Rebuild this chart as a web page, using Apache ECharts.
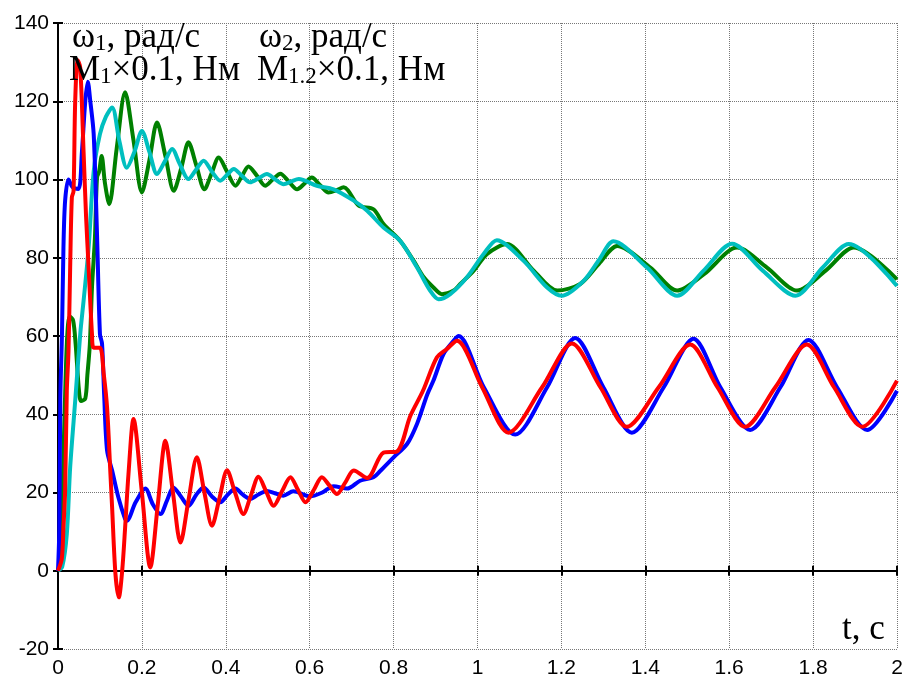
<!DOCTYPE html>
<html>
<head>
<meta charset="utf-8">
<script src="https://cdn.jsdelivr.net/npm/echarts@6/dist/echarts.min.js"></script>
<style>
  html, body { margin: 0; padding: 0; background: #fff; }
  #chart { width: 907px; height: 680px; }
</style>
</head>
<body>
<div id="chart"></div>
<script>
// t, s  ->  value
var omega1 = [[0,0],[0.006,3],[0.012,25],[0.017,45],[0.022,60],[0.028,65],[0.036,64],[0.042,58],[0.05,46],[0.055,43.4],
  [0.065,44],[0.07,50],[0.076,58],[0.081,72.4],[0.088,85],[0.093,100.5],[0.098,102],[0.104,106],[0.112,99],[0.122,93.7],
  [0.14,108],[0.16,122.3],[0.18,110],[0.2,96.7],[0.218,105],[0.236,114.6],[0.256,106],[0.276,97.1],[0.294,103],[0.311,109.5],
  [0.33,103.5],[0.349,97.5],[0.366,101.5],[0.383,105.6],[0.403,102],[0.423,98.4],[0.439,101],[0.454,103.3],[0.474,101],[0.494,98.4],
  [0.512,100],[0.53,101.5],[0.55,99.5],[0.57,97.5],[0.588,99],[0.605,100.5],[0.625,98.5],[0.645,96.7],[0.663,97.2],[0.681,98],
  [0.717,93.3],[0.752,92.4],[0.776,88.6],[0.816,84.3],[0.848,79.2],[0.872,75],[0.895,72.4],[0.915,70.7],[0.943,71.6],[0.959,73.3],
  [0.991,76.7],[1.023,81],[1.07,83.5],[1.134,76.7],[1.19,71.6],[1.245,73.3],[1.29,78.5],[1.333,83],[1.412,77.5],[1.476,71.6],
  [1.54,75.8],[1.619,82.6],[1.69,77.5],[1.762,71.6],[1.83,76.7],[1.897,82.6],[2.0,74.5]];

var omega2 = [[0,0],[0.01,1],[0.021,9.4],[0.029,26.4],[0.041,43.4],[0.053,60.5],[0.061,69],[0.073,82.6],[0.085,102],[0.1,111.6],
  [0.114,116],[0.129,118.4],[0.146,110],[0.164,103],[0.182,107],[0.2,112.4],[0.218,107],[0.236,101.4],[0.254,104.5],[0.272,107.8],
  [0.29,104],[0.311,100.1],[0.329,102.5],[0.347,104.8],[0.367,102],[0.387,99.7],[0.403,101.2],[0.419,102.7],[0.438,101],[0.458,99.3],
  [0.478,100.3],[0.498,101.4],[0.518,100],[0.538,98.8],[0.556,99.5],[0.574,100.1],[0.617,98.4],[0.657,97.5],[0.705,94.6],[0.737,92],
  [0.776,87.7],[0.816,84.3],[0.856,77.5],[0.887,71.6],[0.907,69.4],[0.935,70.7],[0.975,75],[1.015,81],[1.046,84.5],[1.11,79.2],
  [1.166,72.4],[1.201,70.3],[1.253,74.1],[1.29,79.5],[1.324,84.2],[1.404,77.5],[1.476,70.3],[1.539,76.7],[1.607,83.6],[1.68,76.7],
  [1.758,70.3],[1.823,77.5],[1.885,83.5],[2.0,72.8]];

var torque1 = [[0,0],[0.003,10],[0.0055,44],[0.0095,60.5],[0.013,82.6],[0.017,94.6],[0.025,100],[0.035,98],[0.049,97.6],[0.057,107],
  [0.065,120],[0.071,125],[0.077,120],[0.085,111.7],[0.093,86],[0.1,60.5],[0.105,58],[0.11,45],[0.117,30.7],[0.129,25.6],
  [0.144,18.7],[0.16,13.2],[0.164,12.8],[0.185,17.5],[0.208,21],[0.226,17],[0.244,14.5],[0.26,18],[0.275,21.3],[0.293,19],
  [0.311,16.6],[0.33,19.5],[0.347,21.3],[0.367,19],[0.387,17.5],[0.405,19.5],[0.423,21],[0.44,19.5],[0.458,18.4],[0.478,19.5],
  [0.498,20.4],[0.517,19.8],[0.537,19.2],[0.561,20.3],[0.601,19],[0.63,20],[0.657,21.6],[0.689,21],[0.72,23],[0.752,23.9],
  [0.768,25.5],[0.8,29],[0.832,32.4],[0.856,37.6],[0.88,45],[0.895,48.6],[0.919,55.4],[0.943,58.8],[0.955,60],[1.015,46.9],
  [1.09,34.8],[1.166,46.9],[1.233,59.5],[1.3,46.9],[1.368,35.3],[1.444,46.9],[1.515,59.3],[1.579,46.9],[1.65,36],[1.722,46.9],
  [1.789,59],[1.857,46.9],[1.929,36],[2.0,46]];

var torque12 = [[0,0],[0.009,3],[0.013,11],[0.017,20.4],[0.021,46],[0.025,56],[0.029,77.5],[0.033,95.4],[0.037,97],[0.041,120],
  [0.047,130.5],[0.053,128.6],[0.061,107],[0.067,90.3],[0.073,77.5],[0.081,60.5],[0.085,57],[0.1,57],[0.109,50.3],[0.117,41.7],
  [0.125,24.7],[0.129,16.2],[0.137,-0.9],[0.145,-6.8],[0.153,0],[0.16,11],[0.168,24.7],[0.18,38.8],[0.2,20],[0.22,0.85],
  [0.238,17],[0.256,33.2],[0.274,20],[0.292,7.2],[0.311,18],[0.331,29],[0.349,20],[0.367,11.5],[0.385,18.6],[0.403,25.7],
  [0.422,20],[0.442,14.5],[0.46,19.3],[0.478,24],[0.496,20.3],[0.514,16.6],[0.534,20.3],[0.554,23.9],[0.572,20.7],[0.59,17.5],
  [0.61,20.7],[0.629,23.9],[0.647,21.8],[0.665,19.6],[0.685,22.6],[0.705,25.6],[0.737,23.7],[0.776,30.2],[0.808,30.5],[0.84,39.6],
  [0.87,46],[0.903,54.5],[0.927,56.7],[0.951,58.8],[1.011,46.9],[1.074,35.3],[1.154,46.9],[1.225,58.1],[1.293,46.9],[1.356,36.8],
  [1.432,46.9],[1.507,57.8],[1.572,46.9],[1.638,36.8],[1.71,46.9],[1.785,57.8],[1.85,46.9],[1.917,36.8],[2.0,48.6]];

var chart = echarts.init(document.getElementById('chart'));

var serif = '"Liberation Serif", "Times New Roman", serif';
var sans = '"Liberation Sans", Arial, sans-serif';
var axisLn = { show: true, lineStyle: { color: '#000', width: 2 } };
var tickIn = { show: true, inside: true, length: 5, lineStyle: { color: '#000', width: 2 } };
var grid = { show: true, lineStyle: { type: 'dotted', color: '#777', width: 1 } };
var lbl = { color: '#000', fontSize: 21, fontFamily: sans };

// rich text styles for the captions
var rich = {
  m: { fontSize: 35, fontFamily: serif, color: '#000', verticalAlign: 'bottom' },
  s: { fontSize: 23, fontFamily: serif, color: '#000', verticalAlign: 'bottom' }
};

function line(name, data, color) {
  return {
    name: name, type: 'line', data: data, showSymbol: false, symbol: 'none',
    smooth: 0.3, lineStyle: { color: color, width: 4 }, z: 3
  };
}

chart.setOption({
  animation: false,
  backgroundColor: '#fff',
  grid: { left: 58, right: 10, top: 23, bottom: 31, containLabel: false },
  xAxis: [{
    type: 'value', min: 0, max: 2, interval: 0.2, position: 'bottom',
    axisLine: axisLn, axisTick: tickIn, splitLine: grid,
    axisLabel: Object.assign({ margin: 9 }, lbl)
  }, {
    type: 'value', min: 0, max: 2, interval: 0.2, position: 'top',
    axisLine: axisLn, axisTick: tickIn, splitLine: { show: false }, axisLabel: { show: false }
  }],
  yAxis: [{
    type: 'value', min: -20, max: 140, interval: 20, position: 'left',
    axisLine: axisLn, axisTick: tickIn, splitLine: grid,
    axisLabel: Object.assign({ margin: 9 }, lbl)
  }, {
    type: 'value', min: -20, max: 140, interval: 20, position: 'right',
    axisLine: axisLn, axisTick: tickIn, splitLine: { show: false }, axisLabel: { show: false }
  }],
  series: [
    line('ω1', omega1, '#008000'),
    line('ω2', omega2, '#00bfbf'),
    line('M1', torque1, '#0000ff'),
    line('M1.2', torque12, '#ff0000')
  ],
  graphic: [
    { type: 'text', left: 72, top: 20, z: 10, style: { text: '{m|ω}{s|1}{m|, рад/с}', rich: rich } },
    { type: 'text', left: 69, top: 53, z: 10, style: { text: '{m|M}{s|1}{m|×0.1, Нм}', rich: rich } },
    { type: 'text', left: 259, top: 20, z: 10, style: { text: '{m|ω}{s|2}{m|, рад/с}', rich: rich } },
    { type: 'text', left: 257, top: 53, z: 10, style: { text: '{m|M}{s|1.2}{m|×0.1, Нм}', rich: rich } },
    { type: 'text', left: 842, top: 612, z: 10, style: { text: 't, с', font: '35px ' + serif, fill: '#000' } }
  ]
});
</script>
</body>
</html>
